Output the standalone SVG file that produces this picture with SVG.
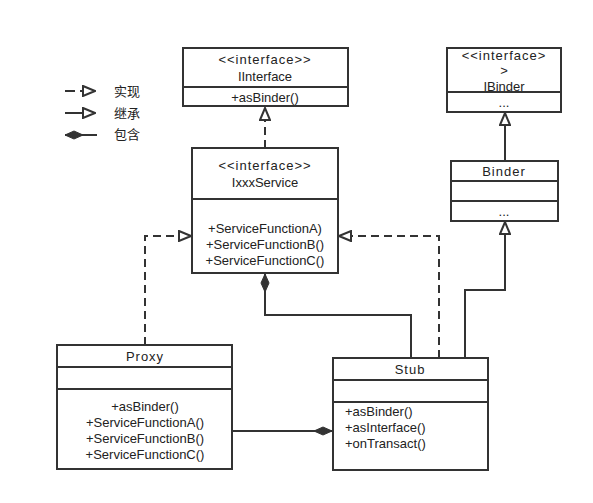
<svg xmlns="http://www.w3.org/2000/svg" width="593" height="503" viewBox="0 0 593 503">
<style>
.box{fill:#fff;stroke:#333;stroke-width:2}
.ln{fill:none;stroke:#333;stroke-width:2}
.dash{fill:none;stroke:#333;stroke-width:2;stroke-dasharray:8,5}
text{font-family:"Liberation Sans","Noto Sans CJK SC",sans-serif;font-size:13px;fill:#222}
.c{text-anchor:middle}
.sp{letter-spacing:1px}
</style>
<defs>
<marker id="tri" viewBox="0 0 14 12" refX="13" refY="6" markerWidth="14" markerHeight="12" markerUnits="userSpaceOnUse" orient="auto">
<path d="M1,1 L13,6 L1,11 Z" fill="#fff" stroke="#333" stroke-width="2"/>
</marker>
<marker id="dia" viewBox="0 0 20 10" refX="19" refY="5" markerWidth="20" markerHeight="10" markerUnits="userSpaceOnUse" orient="auto">
<path d="M1,5 L10,1 L19,5 L10,9 Z" fill="#333" stroke="#333" stroke-width="1"/>
</marker>
</defs>
<rect width="593" height="503" fill="#fff"/>
<g id="legend">
<path class="ln" d="M65,91 H75"/>
<path class="ln" d="M80,91 H95" marker-end="url(#tri)"/>
<text x="114" y="96">实现</text>
<path class="ln" d="M65,113 H95" marker-end="url(#tri)"/>
<text x="114" y="118">继承</text>
<path class="ln" d="M97,135 H65" marker-end="url(#dia)"/>
<text x="114" y="139">包含</text>
</g>
<g id="connectors">
<path class="dash" d="M265,148 V108" marker-end="url(#tri)"/>
<path class="ln" d="M505,161 V113" marker-end="url(#tri)"/>
<path class="ln" d="M465,358 V290 H505 V222" marker-end="url(#tri)"/>
<path class="dash" d="M145,345 V236 H191" marker-end="url(#tri)"/>
<path class="dash" d="M439,358 V236 H339" marker-end="url(#tri)"/>
<path class="ln" d="M411,358 V315 H265 V274" marker-end="url(#dia)"/>
<path class="ln" d="M232,431 H332" marker-end="url(#dia)"/>
</g>
<g id="IInterface">
<rect class="box" x="183" y="48" width="165" height="58"/>
<line class="ln" x1="183" y1="87" x2="348" y2="87"/>
<text class="c sp" x="265" y="64">&lt;&lt;interface&gt;&gt;</text>
<text class="c" x="265" y="81">IInterface</text>
<text class="c" x="265" y="102">+asBinder()</text>
</g>
<g id="IBinder">
<rect class="box" x="447" y="48" width="114" height="64"/>
<line class="ln" x1="447" y1="92" x2="561" y2="92"/>
<text class="c sp" x="504" y="60">&lt;&lt;interface&gt;</text>
<text class="c" x="504" y="75">&gt;</text>
<text class="c" x="504" y="91">IBinder</text>
<text class="c" x="504" y="107">...</text>
</g>
<g id="IxxxService">
<rect class="box" x="192" y="148" width="146" height="125"/>
<line class="ln" x1="192" y1="199" x2="338" y2="199"/>
<text class="c sp" x="265" y="170">&lt;&lt;interface&gt;&gt;</text>
<text class="c" x="265" y="187">IxxxService</text>
<text class="c" x="265" y="233">+ServiceFunctionA)</text>
<text class="c" x="265" y="249">+ServiceFunctionB()</text>
<text class="c" x="265" y="265">+ServiceFunctionC()</text>
</g>
<g id="Binder">
<rect class="box" x="451" y="161" width="107" height="60"/>
<line class="ln" x1="451" y1="181" x2="558" y2="181"/>
<line class="ln" x1="451" y1="201" x2="558" y2="201"/>
<text class="c sp" x="504" y="176">Binder</text>
<text class="c" x="504" y="216">...</text>
</g>
<g id="Proxy">
<rect class="box" x="57" y="345" width="175" height="124"/>
<line class="ln" x1="57" y1="367" x2="232" y2="367"/>
<line class="ln" x1="57" y1="389" x2="232" y2="389"/>
<text class="c sp" x="145" y="361">Proxy</text>
<text class="c" x="145" y="411">+asBinder()</text>
<text class="c" x="145" y="427">+ServiceFunctionA()</text>
<text class="c" x="145" y="443">+ServiceFunctionB()</text>
<text class="c" x="145" y="459">+ServiceFunctionC()</text>
</g>
<g id="Stub">
<rect class="box" x="333" y="358" width="155" height="112"/>
<line class="ln" x1="333" y1="380" x2="488" y2="380"/>
<line class="ln" x1="333" y1="402" x2="488" y2="402"/>
<text class="c sp" x="410" y="374">Stub</text>
<text x="345" y="416">+asBinder()</text>
<text x="345" y="432">+asInterface()</text>
<text x="345" y="448">+onTransact()</text>
</g>
</svg>
